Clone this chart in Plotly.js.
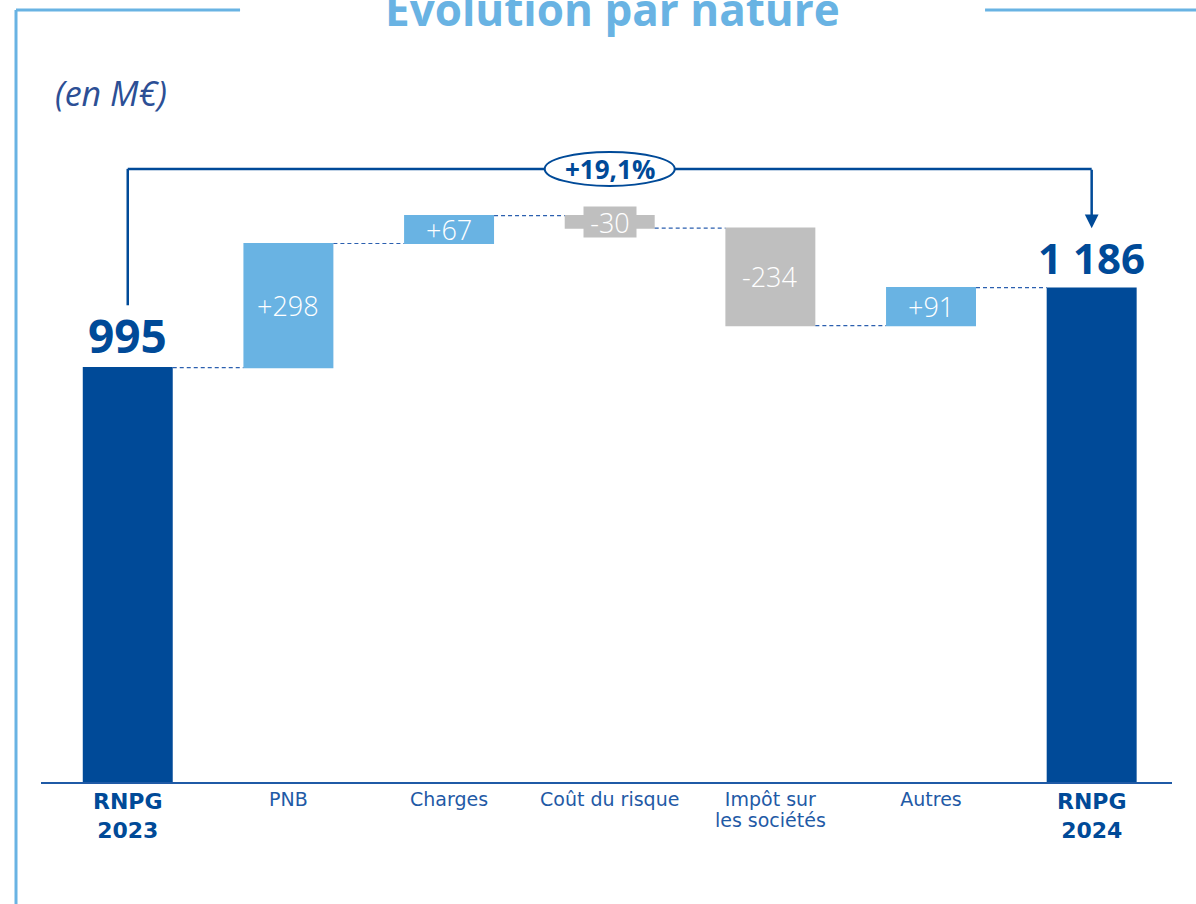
<!DOCTYPE html>
<html>
<head>
<meta charset="utf-8">
<script src="https://cdn.plot.ly/plotly-3.0.1.min.js"></script>
<style>
html,body{margin:0;padding:0;background:#fff;}
#chart{width:1196px;height:904px;}
</style>
</head>
<body>
<div id="chart"></div>
<script>
// ---- data ----
const categories = ["RNPG 2023", "PNB", "Charges", "Coût du risque", "Impôt sur les sociétés", "Autres", "RNPG 2024"];
const tickLabels = ["", "PNB", "Charges", "Coût du risque", "Impôt sur<br>les sociétés", "Autres", ""];
const totalLabels = ["RNPG<br>2023", "RNPG<br>2024"];
const values = [995, 298, 67, -30, -234, 91, 1186];
const measures = ["absolute", "relative", "relative", "relative", "relative", "relative", "absolute"];
const valueLabels = ["995", "+298", "+67", "-30", "-234", "+91", "1 186"];
const growthLabel = "+19,1%";
const unitLabel = "(en M€)";
const titleText = "Évolution par nature";

// ---- styles ----
const DARK = "#004A98";
const LIGHT = "#69B3E3";
const GREY = "#BFBFBF";
const FONT = "Open Sans, sans-serif";
const TICKFONT = "DejaVu Sans, sans-serif";

const xIdx = categories.map((_, i) => i);

// label positions from the data
let run = 0;
const mids = [];
values.forEach((v, i) => {
  if (measures[i] === "absolute") { run = v; mids.push(v); }
  else { mids.push(run + v / 2); run += v; }
});

const trace = {
  type: "waterfall",
  x: xIdx,
  y: values,
  measure: measures,
  width: 0.56,
  increasing: { marker: { color: LIGHT } },
  decreasing: { marker: { color: GREY } },
  totals: { marker: { color: DARK } },
  connector: { mode: "between", line: { color: "#2B5FAF", width: 1.2, dash: "4px,3px" } },
  hoverinfo: "skip",
  showlegend: false
};

const annotations = [];
values.forEach((v, i) => {
  if (measures[i] === "absolute") {
    annotations.push({
      x: i, y: v, xref: "x", yref: "y", yanchor: "bottom", yshift: 0,
      text: "<b>" + valueLabels[i] + "</b>", showarrow: false,
      font: { family: FONT, size: i === 0 ? 46 : 42, color: DARK }
    });
  } else {
    const small = Math.abs(v) < 50 && v < 0;
    annotations.push({
      x: i, y: mids[i], xref: "x", yref: "y", yanchor: "middle",
      text: valueLabels[i], showarrow: false,
      font: { family: FONT, size: 27, color: "#FFFFFF", weight: 300 },
      bgcolor: small ? GREY : "rgba(0,0,0,0)",
      width: small ? 50 : null,
      height: small ? 28 : null
    });
  }
});

// total category labels (bold, larger) under the axis
[0, 6].forEach((i, k) => {
  annotations.push({
    x: i, y: 0, xref: "x", yref: "y", yanchor: "top", yshift: -5,
    text: "<b>" + totalLabels[k] + "</b>", showarrow: false,
    font: { family: TICKFONT, size: 22, color: DARK }
  });
});

// growth label in ellipse
annotations.push({
  x: 3, y: 0.899, xref: "x", yref: "paper", yanchor: "middle",
  text: "<b>" + growthLabel + "</b>", showarrow: false,
  font: { family: FONT, size: 26, color: DARK }
});
// arrow on the right
annotations.push({
  x: 6, y: 0.812, xref: "x", yref: "paper",
  ax: 0, ay: -60, axref: "pixel", ayref: "pixel",
  showarrow: true, arrowhead: 2, arrowsize: 1.1, arrowwidth: 2.5, arrowcolor: DARK, text: ""
});
// unit label
annotations.push({
  x: 0.011, y: 1.010, xref: "paper", yref: "paper", xanchor: "left", yanchor: "middle",
  text: "<i>" + unitLabel + "</i>", showarrow: false,
  font: { family: FONT, size: 34, color: "#2C4F95" }
});
// title
annotations.push({
  x: 0.505, y: 1.1334, xref: "paper", yref: "paper", xanchor: "center", yanchor: "middle",
  text: "<b>" + titleText + "</b>", showarrow: false,
  font: { family: FONT, size: 44, color: LIGHT }
});

const shapes = [
  // frame
  { type: "line", xref: "paper", yref: "paper", x0: -0.0221, x1: -0.0221, y0: 1.132, y1: -0.2, line: { color: LIGHT, width: 3 } },
  { type: "line", xref: "paper", yref: "paper", x0: -0.0221, x1: 0.176, y0: 1.132, y1: 1.132, line: { color: LIGHT, width: 3 } },
  { type: "line", xref: "paper", yref: "paper", x0: 0.8347, x1: 1.03, y0: 1.132, y1: 1.132, line: { color: LIGHT, width: 3 } },
  // bracket
  { type: "line", xref: "x", yref: "paper", x0: 0, x1: 0, y0: 0.699, y1: 0.899, line: { color: DARK, width: 2.5 } },
  { type: "line", xref: "x", yref: "paper", x0: 0, x1: 6, y0: 0.899, y1: 0.899, line: { color: DARK, width: 2.5 } },
  // ellipse
  { type: "circle", xref: "x", yref: "paper", xsizemode: "pixel", ysizemode: "pixel", xanchor: 3, yanchor: 0.899,
    x0: -65, x1: 65, y0: -17, y1: 17, fillcolor: "#FFFFFF", line: { color: DARK, width: 2 } }
];

const layout = {
  width: 1196, height: 904,
  margin: { l: 41, r: 24, t: 100, b: 122 },
  paper_bgcolor: "#FFFFFF", plot_bgcolor: "#FFFFFF",
  showlegend: false,
  xaxis: {
    range: [-0.54, 6.5], tickmode: "array", tickvals: xIdx,
    ticktext: tickLabels.map(t => t ? "<span style='font-size:19px'>" + t + "</span>" : t),
    showgrid: false, zeroline: false, showline: true, linecolor: "#1F5AA6", linewidth: 2,
    ticks: "", ticklabelstandoff: 3,
    tickfont: { family: TICKFONT, size: 16, color: "#1F5AA6" }, fixedrange: true
  },
  yaxis: { range: [0, 1637.5], visible: false, showgrid: false, zeroline: false, fixedrange: true },
  annotations: annotations,
  shapes: shapes,
  font: { family: FONT }
};

Plotly.newPlot("chart", [trace], layout, { staticPlot: true, displayModeBar: false });
</script>
</body>
</html>
